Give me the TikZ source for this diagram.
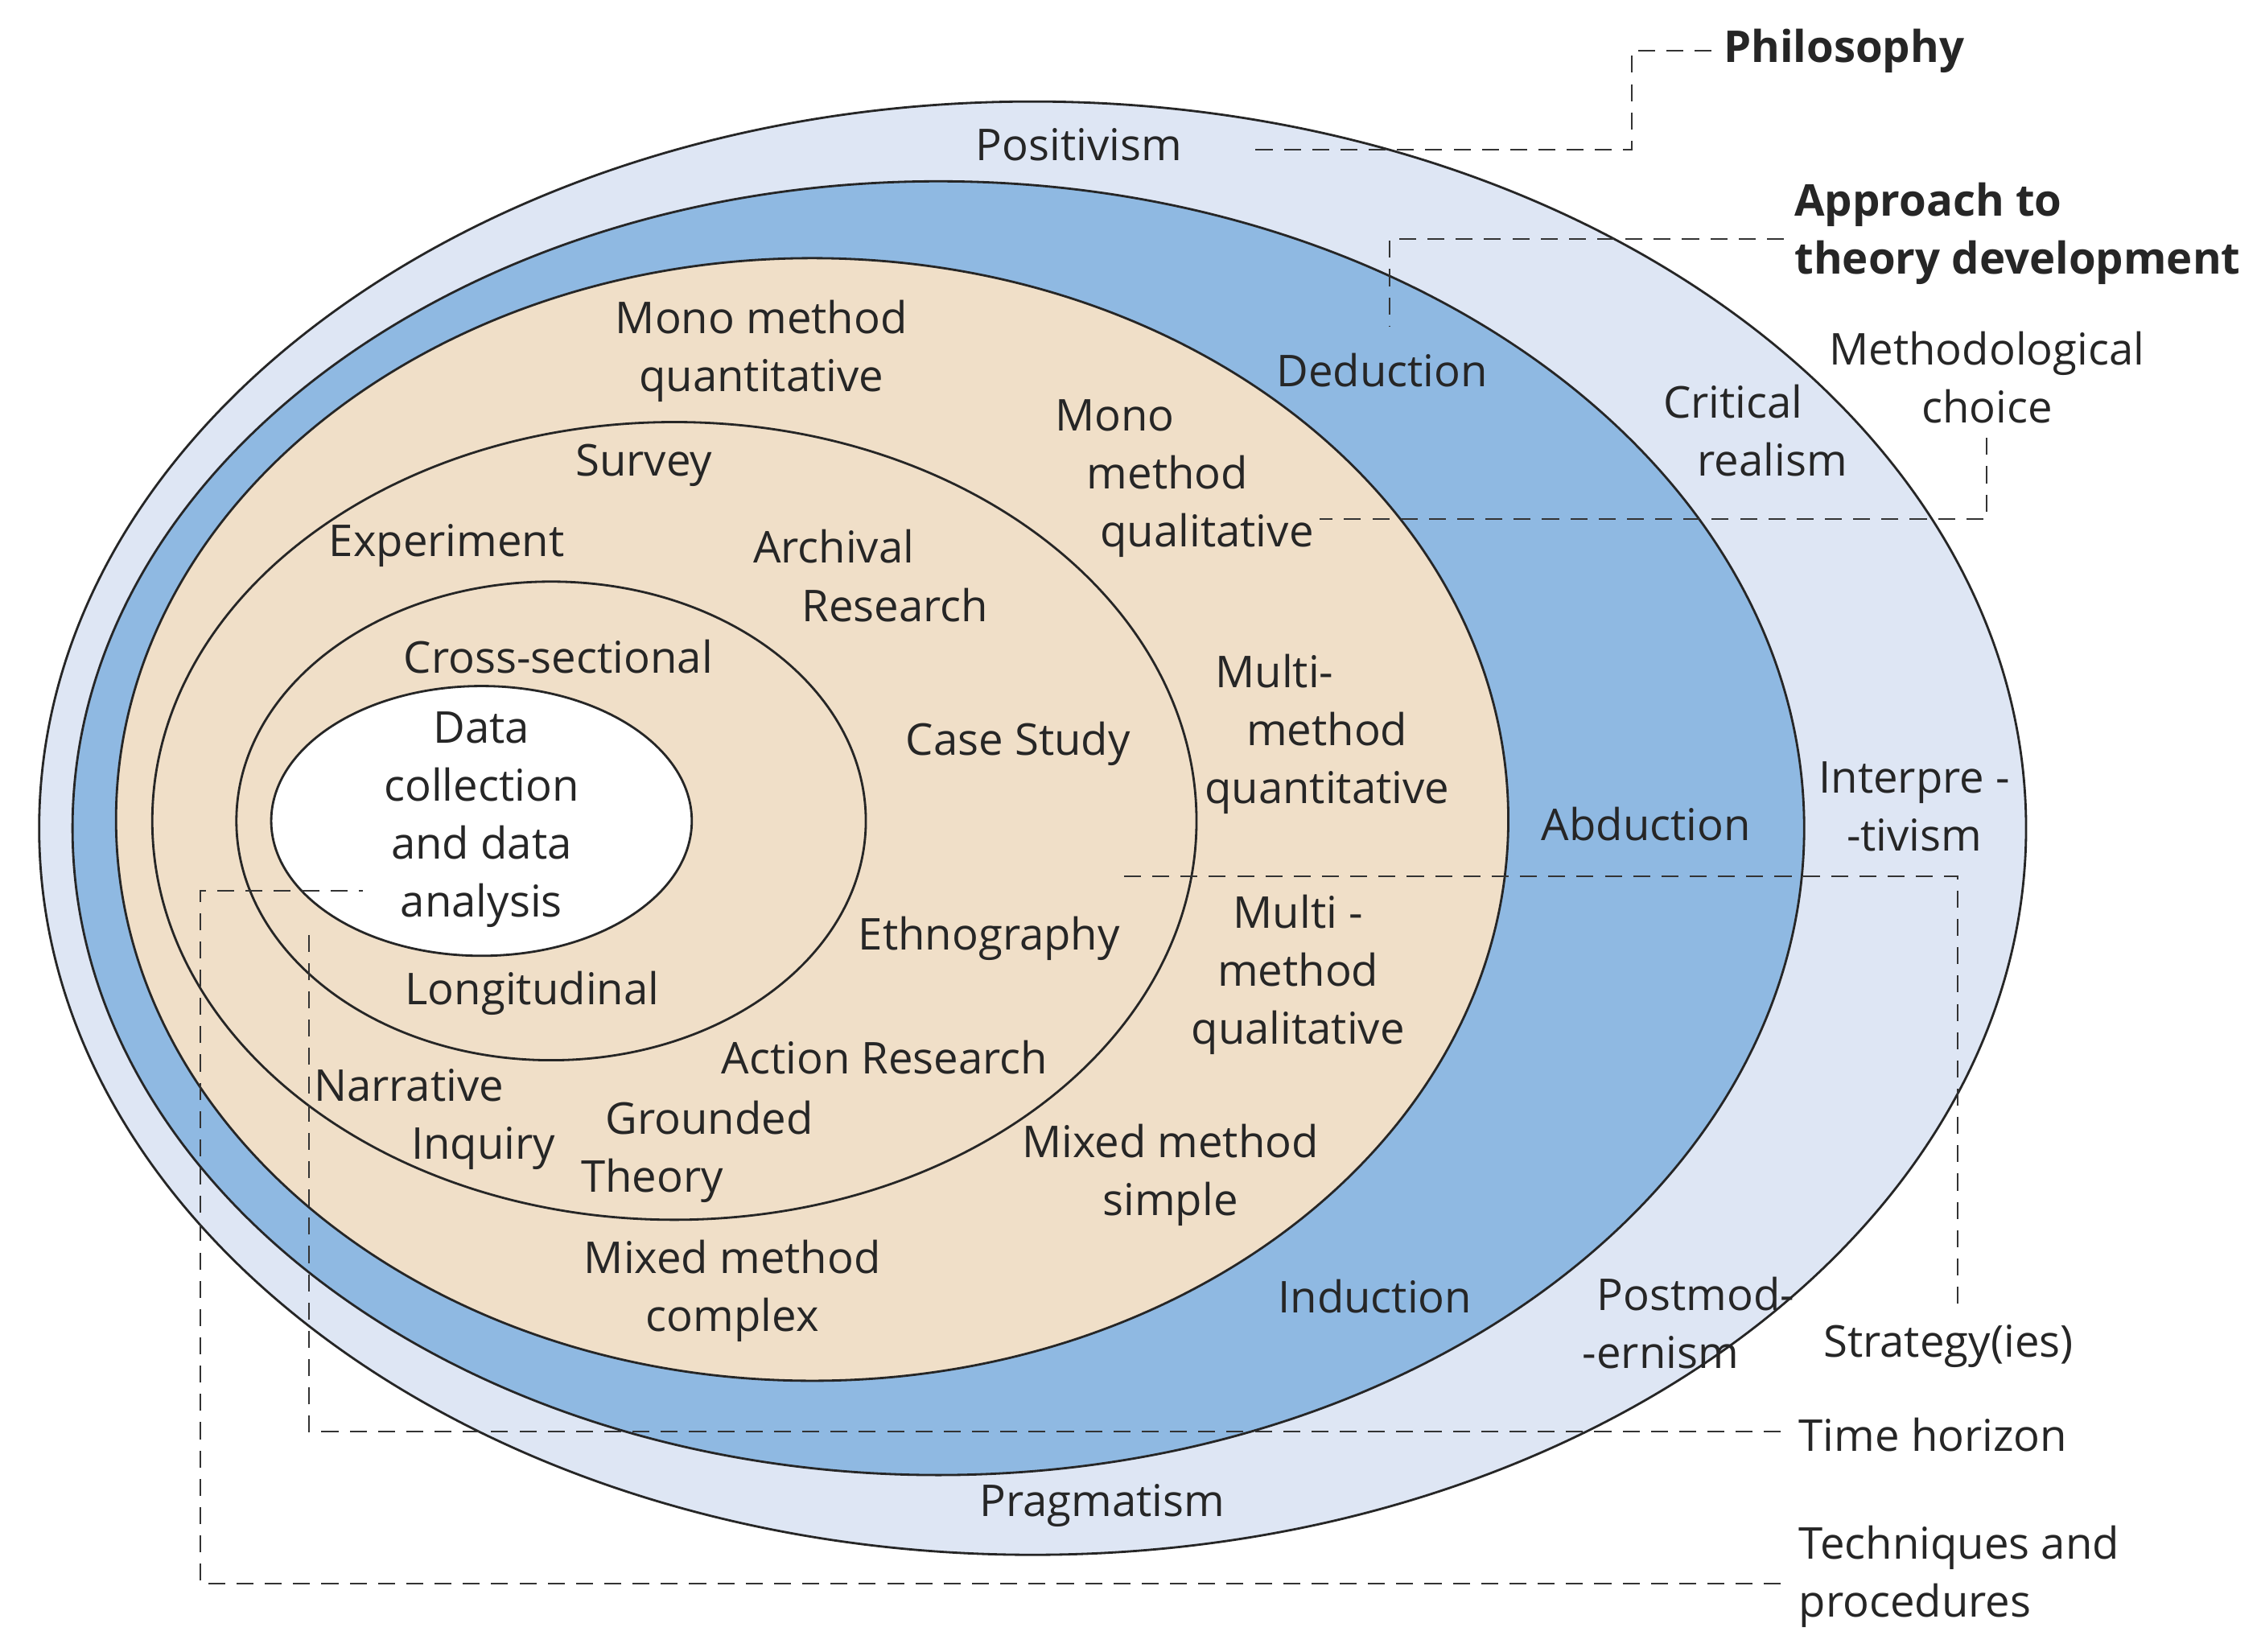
\documentclass[tikz,border=0pt]{standalone}
\usepackage{fontspec}
\setmainfont{Open Sans}
\begin{document}
\begin{tikzpicture}[x=0.018025cm,y=-0.018025cm,
  t/.style={font=\fontsize{15.5}{20.5}\selectfont,align=center,inner sep=0pt,text=black!85},
  b/.style={t,font=\fontsize{15.5}{20.5}\selectfont\bfseries},
  d/.style={dashed,dash pattern=on 6pt off 4pt,line width=0.6pt,black!80},
  e/.style={draw=black!85,line width=0.8pt}]
\useasboundingbox (0,0) rectangle (1559,1139);
\fill[white] (0,0) rectangle (1559,1139);
\path[e,fill={rgb,255:red,222;green,230;blue,244}] (712,571) ellipse [x radius=685,y radius=501];
\path[e,fill={rgb,255:red,143;green,185;blue,226}] (647,571) ellipse [x radius=597,y radius=446];
\path[e,fill={rgb,255:red,240;green,223;blue,200}] (560,565) ellipse [x radius=480,y radius=387];
\path[e] (465,566) ellipse [x radius=360,y radius=275];
\path[e] (380,566) ellipse [x radius=217,y radius=165];
\path[e,fill=white] (332,566) ellipse [x radius=145,y radius=93];
% dashed leaders
\coordinate (p1) at (1180,35); \coordinate (p2) at (858,103);
\draw[d] (p1) -- (1125,35) -- (1125,103) -- (p2);
\coordinate (a1) at (1230,165); \coordinate (a2) at (958,225);
\draw[d] (a1) -- (958,165) -- (a2);
\coordinate (m1) at (1370,302); \coordinate (m2) at (910,358);
\draw[d] (m1) -- (1370,358) -- (m2);
\coordinate (s1) at (775,604); \coordinate (s2) at (1350,905);
\draw[d] (s1) -- (1350,604) -- (s2);
\coordinate (h1) at (1228,987); \coordinate (h2) at (213,640);
\draw[d] (h1) -- (213,987) -- (h2);
\coordinate (q1) at (1228,1092); \coordinate (q2) at (250,614);
\draw[d] (q1) -- (138,1092) -- (138,614) -- (q2);
% labels
\node[b,anchor=west] (phil) at (1188,35) {Philosophy};
\node[b,anchor=west,align=left] (appr) at (1237,161) {Approach to\\theory development};
\node[t] (meth) at (1370,260) {Methodological\\choice};
\node[t,anchor=west] (strat) at (1257,928) {Strategy(ies)};
\node[t,anchor=west] (time) at (1240,989) {Time horizon};
\node[t,anchor=west,align=left] (tech) at (1240,1087) {Techniques and\\procedures};
\node[t] (pos) at (744,100) {Positivism};
\node[t] (crit) at (1195,297) {Critical\\\hspace*{1.8em}realism};
\node[t] (intp) at (1320,556) {Interpre -\\-tivism};
\node[t] (post) at (1145,912) {\hspace*{1.6em}Postmod-\\-ernism};
\node[t] (prag) at (760,1038) {Pragmatism};
\node[t] (ded) at (953,255) {Deduction};
\node[t] (abd) at (1135,568) {Abduction};
\node[t] (ind) at (948,894) {Induction};
\node[t] (mmq) at (525,242) {Mono method\\quantitative};
\node[t] (mmql) at (805,330) {Mono\hspace*{2.4em}\\method\hspace*{1.8em}\\\hspace*{1.8em}qualitative};
\node[t] (mtq) at (915,506) {Multi-\hspace*{2.4em}\\method\hspace*{1.4em}\\quantitative};
\node[t] (mtql) at (895,672) {Multi -\\method\\qualitative};
\node[t] (mms) at (807,810) {Mixed method\\simple};
\node[t] (mmc) at (505,890) {Mixed method\\complex};
\node[t] (surv) at (444,321) {Survey};
\node[t] (exp) at (308,376) {Experiment};
\node[t] (arch) at (593,397) {Archival\hspace*{1.2em}\\\hspace*{1.6em}Research};
\node[t] (case) at (702,513) {Case Study};
\node[t] (eth) at (682,647) {Ethnography};
\node[t] (act) at (610,729) {Action Research};
\node[t] (gt) at (480,794) {\hspace*{0.6em}Grounded\\Theory\hspace*{2em}};
\node[t] (nar) at (300,772) {Narrative\hspace*{1.2em}\\\hspace*{2.2em}Inquiry};
\node[t] (cs) at (385,453) {Cross-sectional};
\node[t] (lon) at (367,685) {Longitudinal};
\node[t] (dc) at (332,565) {Data\\collection\\and data\\analysis};
\end{tikzpicture}
\end{document}
